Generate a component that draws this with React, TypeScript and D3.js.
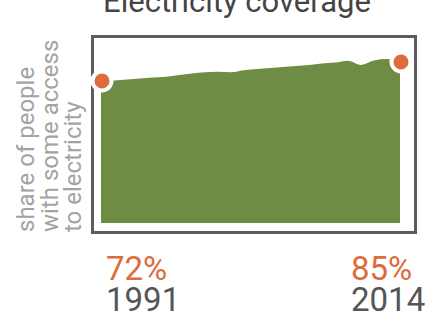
import React from "react";
import * as d3 from "d3";

const years = [1991,1992,1993,1994,1995,1996,1997,1998,1999,2000,2001,2002,2003,2004,2005,2006,2007,2008,2009,2010,2011,2012,2013,2014];
const coverage = [72.0,72.3,73.0,73.7,74.4,74.9,76.1,77.1,77.9,78.3,77.9,79.3,80.2,80.9,81.6,82.2,82.9,83.9,84.6,85.9,83.0,86.0,87.0,85.0];
const title = "Electricity coverage";
const axisLines = ["share of people", "with some access", "to electricity"];

const W = 436, H = 318;
const GREEN = "#6f8c44";
const ORANGE = "#de6b3c";

export default function App() {
  const x = d3.scaleLinear().domain([1991, 2014]).range([101, 400]);
  const y = d3.scaleLinear().domain([-25, 100]).range([223, 40]);
  const data = years.map((yr, i) => ({ yr, v: coverage[i] }));
  const area = d3.area<{ yr: number; v: number }>()
    .x(d => x(d.yr))
    .y0(y(-25))
    .y1(d => y(d.v))
    .curve(d3.curveMonotoneX);
  const first = data[0];
  const last = data[data.length - 1];
  return (
    <svg width={W} height={H} style={{ position: "absolute", left: 0, top: 0 }} fontFamily="Roboto, sans-serif">
      <text x={237} y={12} textAnchor="middle" fontSize={31} fill="#444">{title}</text>
      {axisLines.map((t, i) => (
        <text key={i} transform={`translate(${34 + i * 23.5},232) rotate(-90)`} fontSize={24} fill="#a3a3a3">{t}</text>
      ))}
      <rect x={92.5} y={36.5} width={323} height={196} fill="none" stroke="#5c5c5c" strokeWidth={3} />
      <path d={area(data) || ""} fill={GREEN} />
      {[first, last].map((d, i) => (
        <circle key={i} cx={x(d.yr) + 1} cy={y(d.v)} r={9.5} fill={ORANGE} stroke="#fff" strokeWidth={4} />
      ))}
      <text x={106} y={280} fontSize={33} fill={ORANGE}>{`${Math.round(first.v)}%`}</text>
      <text x={106} y={311} fontSize={33} fill="#555">{first.yr}</text>
      <text x={351} y={280} fontSize={33} fill={ORANGE}>{`${Math.round(last.v)}%`}</text>
      <text x={351} y={311} fontSize={33} fill="#555">{last.yr}</text>
    </svg>
  );
}
